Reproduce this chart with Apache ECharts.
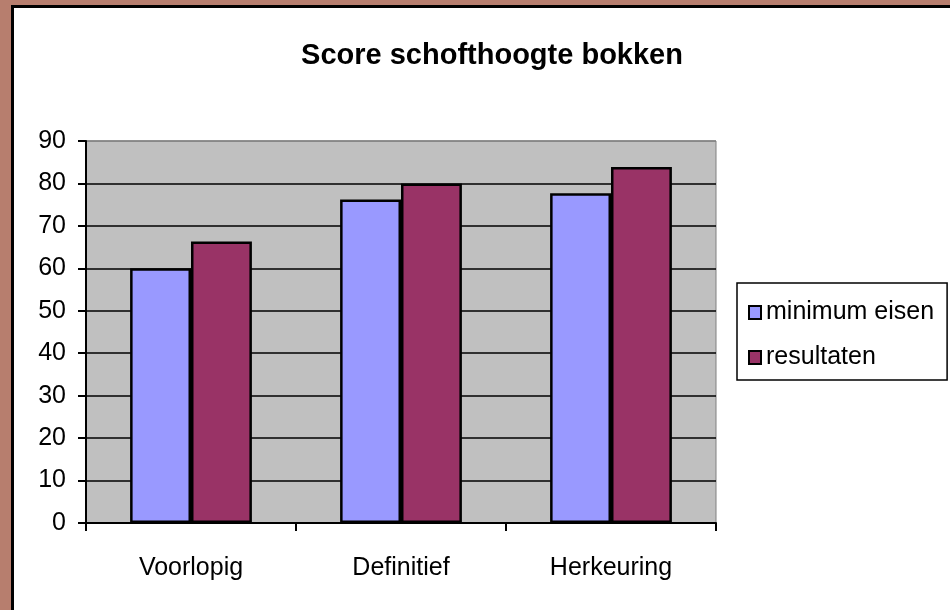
<!DOCTYPE html>
<html>
<head>
<meta charset="utf-8">
<script src="https://cdn.jsdelivr.net/npm/echarts@6/dist/echarts.min.js"></script>
<style>
  html, body { margin: 0; padding: 0; background: #fff; }
  #chart { width: 950px; height: 610px; }
</style>
</head>
<body>
<div id="chart"></div>
<script>
// data
const categories = ['Voorlopig', 'Definitief', 'Herkeuring'];
const minimumEisen = [60, 76.2, 77.7];
const resultaten = [66.3, 80, 83.9];
const seriesNames = ['minimum eisen', 'resultaten'];

const font = '"Liberation Sans", Arial, sans-serif';

// gridlines black, the one at the top of the plot grey
const splitColors = [];
for (let i = 0; i < 10; i++) splitColors.push(i === 9 ? '#808080' : '#000');

const myChart = echarts.init(document.getElementById('chart'));

const option = {
    backgroundColor: '#fff',
    animation: false,
    title: {
        text: 'Score schofthoogte bokken',
        left: 487,
        top: 36,
        textAlign: 'center',
        textStyle: { fontFamily: font, fontSize: 29, fontWeight: 'bold', color: '#000' }
    },
    legend: {
        orient: 'vertical',
        left: 737,
        top: 283,
        padding: [17, 13, 10, 11],
        itemGap: 20,
        itemWidth: 12,
        itemHeight: 13,
        itemTextGap: 14,
        borderColor: '#000',
        borderWidth: 1.5,
        icon: 'rect',
        data: seriesNames,
        textStyle: { fontFamily: font, fontSize: 25, color: '#000' }
    },
    grid: {
        left: 86,
        top: 141,
        right: 234,
        bottom: 87,
        show: true,
        backgroundColor: '#C0C0C0',
        borderColor: '#808080',
        borderWidth: 1
    },
    xAxis: {
        type: 'category',
        data: categories,
        axisLine: { lineStyle: { color: '#000', width: 2 } },
        axisTick: { show: true, alignWithLabel: false, length: 8, lineStyle: { color: '#000', width: 2 } },
        axisLabel: { margin: 33, fontFamily: font, fontSize: 25, color: '#000' }
    },
    yAxis: {
        type: 'value',
        min: 0,
        max: 90,
        interval: 10,
        axisLine: { show: true, lineStyle: { color: '#000', width: 2 } },
        axisTick: { show: true, length: 8, lineStyle: { color: '#000', width: 2 } },
        axisLabel: { margin: 20, fontFamily: font, fontSize: 25, color: '#000' },
        splitLine: { show: true, lineStyle: { color: splitColors, width: 1.5 } }
    },
    series: [
        {
            name: seriesNames[0],
            type: 'bar',
            data: minimumEisen,
            barGap: '0%',
            barCategoryGap: '42%',
            itemStyle: { color: '#9999FF', borderColor: '#000', borderWidth: 2.5 }
        },
        {
            name: seriesNames[1],
            type: 'bar',
            data: resultaten,
            barGap: '0%',
            barCategoryGap: '42%',
            itemStyle: { color: '#993366', borderColor: '#000', borderWidth: 2.5 }
        }
    ],
    graphic: [
        // brown frame with a black inner line on the top and left
        { type: 'rect', silent: true, z: 100, shape: { x: 0, y: 0, width: 950, height: 5 }, style: { fill: '#B77E6E' } },
        { type: 'rect', silent: true, z: 100, shape: { x: 0, y: 0, width: 11, height: 610 }, style: { fill: '#B77E6E' } },
        { type: 'rect', silent: true, z: 100, shape: { x: 11, y: 5, width: 939, height: 3 }, style: { fill: '#000' } },
        { type: 'rect', silent: true, z: 100, shape: { x: 11, y: 5, width: 3, height: 605 }, style: { fill: '#000' } }
    ]
};

myChart.setOption(option);
window.onresize = myChart.resize;
</script>
</body>
</html>
